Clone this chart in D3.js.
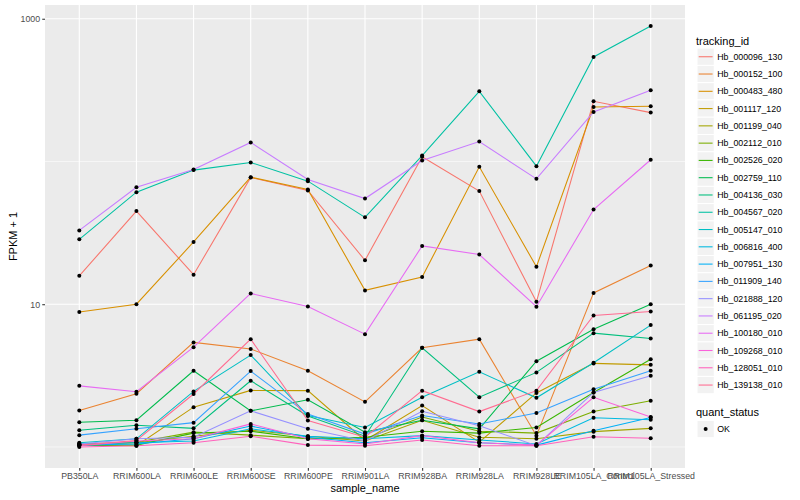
<!DOCTYPE html>
<html lang="en">
<head>
<meta charset="utf-8">
<title>FPKM + 1 by sample</title>
<script src="https://d3js.org/d3.v7.min.js"></script>
<style>
  body { margin: 0; background: #fff; }
  text { font-family: "Liberation Sans", Arial, sans-serif; }
</style>
</head>
<body>
<script>
// categories
const samples = ["PB350LA", "RRIM600LA", "RRIM600LE", "RRIM600SE", "RRIM600PE", "RRIM901LA",
                 "RRIM928BA", "RRIM928LA", "RRIM928LE", "RRIM105LA_Control", "RRIM105LA_Stressed"];
const trackingIds = ["Hb_000096_130", "Hb_000152_100", "Hb_000483_480", "Hb_001117_120", "Hb_001199_040",
                     "Hb_002112_010", "Hb_002526_020", "Hb_002759_110", "Hb_004136_030", "Hb_004567_020",
                     "Hb_005147_010", "Hb_006816_400", "Hb_007951_130", "Hb_011909_140", "Hb_021888_120",
                     "Hb_061195_020", "Hb_100180_010", "Hb_109268_010", "Hb_128051_010", "Hb_139138_010"];
const quantStatus = ["OK"];

// FPKM + 1, one array per gene, in sample order
const hb_000096_130 = [15.8, 44.9, 16.1, 77.3, 62.7, 20.3, 108, 62.0, 10.4, 264, 220];
const hb_000152_100 = [1.80, 2.36, 5.40, 4.86, 3.42, 2.07, 4.95, 5.69, 1.20, 12.0, 18.7];
const hb_000483_480 = [8.83, 10.0, 27.3, 77.6, 63.7, 12.5, 15.5, 91.8, 18.3, 241, 244];
const hb_001117_120 = [1.03, 1.02, 1.90, 2.49, 2.48, 1.11, 1.95, 1.08, 2.39, 3.85, 3.76];
const hb_001199_040 = [1.03, 1.07, 1.19, 1.31, 1.19, 1.10, 1.54, 1.17, 1.14, 1.28, 1.35];
const hb_002112_010 = [1.05, 1.08, 1.27, 1.21, 1.14, 1.14, 1.62, 1.29, 1.25, 1.77, 2.11];
const hb_002526_020 = [1.03, 1.03, 1.25, 1.29, 1.14, 1.17, 1.29, 1.25, 1.37, 2.41, 4.12];
const hb_002759_110 = [1.49, 1.54, 3.42, 1.79, 2.14, 1.27, 1.54, 1.34, 3.99, 6.68, 10.0];
const hb_004136_030 = [1.31, 1.42, 1.35, 2.91, 1.65, 1.19, 4.95, 2.23, 3.33, 6.27, 5.76];
const hb_004567_020 = [28.5, 61.0, 87.0, 98.4, 72.8, 40.6, 110, 310, 92.7, 540, 889];
const hb_005147_010 = [1.07, 1.14, 2.45, 4.40, 1.66, 1.37, 2.23, 3.36, 2.21, 3.89, 7.14];
const hb_006816_400 = [1.05, 1.07, 1.10, 1.34, 1.19, 1.14, 1.20, 1.12, 1.05, 1.60, 1.55];
const hb_007951_130 = [1.03, 1.05, 1.14, 1.40, 1.17, 1.07, 1.16, 1.07, 1.03, 1.30, 1.61];
const hb_011909_140 = [1.21, 1.34, 1.48, 3.40, 1.70, 1.23, 1.66, 1.45, 1.73, 2.54, 3.42];
const hb_021888_120 = [1.05, 1.14, 1.17, 1.79, 1.34, 1.10, 1.78, 1.41, 1.02, 2.41, 3.15];
const hb_061195_020 = [32.9, 66.0, 88.0, 136, 74.8, 55.0, 101.6, 138, 75.6, 222.6, 315];
const hb_100180_010 = [2.68, 2.44, 5.00, 11.9, 9.64, 6.17, 25.6, 22.3, 9.60, 46.1, 102.8];
const hb_109268_010 = [1.02, 1.10, 1.14, 1.45, 1.14, 1.05, 1.20, 1.07, 1.03, 2.23, 1.62];
const hb_128051_010 = [1.00, 1.02, 1.07, 1.19, 1.03, 1.02, 1.12, 1.02, 1.02, 1.18, 1.15];
const hb_139138_010 = [1.03, 1.11, 2.35, 5.69, 1.53, 1.17, 2.48, 1.77, 2.48, 8.35, 8.88];

// y tick labels
const yBreaks = [10, 1000];
const yMinorBreaks = [1, 100];

const allSeries = [hb_000096_130, hb_000152_100, hb_000483_480, hb_001117_120, hb_001199_040,
                   hb_002112_010, hb_002526_020, hb_002759_110, hb_004136_030, hb_004567_020,
                   hb_005147_010, hb_006816_400, hb_007951_130, hb_011909_140, hb_021888_120,
                   hb_061195_020, hb_100180_010, hb_109268_010, hb_128051_010, hb_139138_010];

// ggplot default hue palette for 20 levels
const hue20 = ["#F8766D", "#EA8331", "#D89000", "#C09B00", "#A3A500", "#7CAE00", "#39B600",
               "#00BB4E", "#00BF7D", "#00C1A3", "#00BFC4", "#00BAE0", "#00B0F6", "#35A2FF",
               "#9590FF", "#C77CFF", "#E76BF3", "#FA62DB", "#FF62BC", "#FF6C91"];

const W = 800, H = 500;
const panel = {left: 45, right: 685, top: 5, bottom: 468};

const series = trackingIds.map((id, i) => ({
    id: id,
    color: hue20[i],
    values: allSeries[i].map((v, j) => ({sample: samples[j], v: v}))
}));

const svg = d3.select("body").append("svg")
    .attr("width", W)
    .attr("height", H);

svg.append("rect").attr("width", W).attr("height", H).attr("fill", "#fff");

var x = d3.scalePoint()
    .domain(samples)
    .range([panel.left, panel.right])
    .padding(0.6);

// log scale with ggplot style 5% expansion
var ext = d3.extent(allSeries.flat()).map(Math.log10);
var pad = (ext[1] - ext[0]) * 0.05;
var y = d3.scaleLog()
    .domain([Math.pow(10, ext[0] - pad), Math.pow(10, ext[1] + pad)])
    .range([panel.bottom, panel.top]);

// panel background + grid
svg.append("rect")
    .attr("x", panel.left).attr("y", panel.top)
    .attr("width", panel.right - panel.left)
    .attr("height", panel.bottom - panel.top)
    .attr("fill", "#EBEBEB");

var grid = svg.append("g");
grid.selectAll(".minor")
    .data(yMinorBreaks)
    .enter().append("line")
    .attr("x1", panel.left).attr("x2", panel.right)
    .attr("y1", d => y(d)).attr("y2", d => y(d))
    .attr("stroke", "#fff").attr("stroke-width", 0.55);
grid.selectAll(".major")
    .data(yBreaks)
    .enter().append("line")
    .attr("x1", panel.left).attr("x2", panel.right)
    .attr("y1", d => y(d)).attr("y2", d => y(d))
    .attr("stroke", "#fff").attr("stroke-width", 1.1);
grid.selectAll(".xgrid")
    .data(samples)
    .enter().append("line")
    .attr("x1", d => x(d)).attr("x2", d => x(d))
    .attr("y1", panel.top).attr("y2", panel.bottom)
    .attr("stroke", "#fff").attr("stroke-width", 1.1);

// lines
var line = d3.line()
    .x(d => x(d.sample))
    .y(d => y(d.v));

svg.append("g").selectAll("path")
    .data(series)
    .enter().append("path")
    .attr("d", d => line(d.values))
    .attr("fill", "none")
    .attr("stroke", d => d.color)
    .attr("stroke-width", 1.07);

// points
svg.append("g").selectAll("g")
    .data(series)
    .enter().append("g")
    .selectAll("circle")
    .data(d => d.values)
    .enter().append("circle")
    .attr("cx", d => x(d.sample))
    .attr("cy", d => y(d.v))
    .attr("r", 2)
    .attr("fill", "#000");

// axes
var yAxis = svg.append("g")
    .attr("transform", "translate(" + panel.left + ",0)")
    .call(d3.axisLeft(y).tickValues(yBreaks).tickFormat(d3.format("d")).tickSize(2.75).tickPadding(2.2));
var xAxis = svg.append("g")
    .attr("transform", "translate(0," + panel.bottom + ")")
    .call(d3.axisBottom(x).tickSize(2.75).tickPadding(2.2));

[xAxis, yAxis].forEach(function(a){
    a.select(".domain").remove();
    a.selectAll(".tick line").attr("stroke", "#333333").attr("stroke-width", 1.07);
    a.selectAll(".tick text")
        .attr("fill", "#4D4D4D")
        .style("font-size", "8.8px")
        .style("font-family", "Liberation Sans, Arial, sans-serif");
});

// axis titles
svg.append("text")
    .attr("x", (panel.left + panel.right) / 2)
    .attr("y", 492)
    .attr("text-anchor", "middle")
    .style("font-size", "11px")
    .text("sample_name");

svg.append("text")
    .attr("transform", "translate(17," + (panel.top + panel.bottom) / 2 + ") rotate(-90)")
    .attr("text-anchor", "middle")
    .style("font-size", "11px")
    .text("FPKM + 1");

// legend: tracking_id
const keySize = 17.28;
var legend = svg.append("g");
legend.append("text")
    .attr("x", 696).attr("y", 44.5)
    .style("font-size", "11px")
    .text("tracking_id");

var keys = legend.selectAll(".key")
    .data(series)
    .enter().append("g")
    .attr("transform", (d, i) => "translate(697," + (48.1 + i * keySize) + ")");
keys.append("rect")
    .attr("width", keySize).attr("height", keySize)
    .attr("fill", "#F2F2F2").attr("stroke", "#fff").attr("stroke-width", 1);
keys.append("line")
    .attr("x1", 1.7).attr("x2", keySize - 1.7)
    .attr("y1", keySize / 2).attr("y2", keySize / 2)
    .attr("stroke", d => d.color).attr("stroke-width", 1.07);
keys.append("text")
    .attr("x", keySize + 3)
    .attr("y", keySize / 2)
    .attr("dy", "0.35em")
    .style("font-size", "8.8px")
    .text(d => d.id);

// legend: quant_status
legend.append("text")
    .attr("x", 696).attr("y", 415.5)
    .style("font-size", "11px")
    .text("quant_status");

var qkeys = legend.selectAll(".qkey")
    .data(quantStatus)
    .enter().append("g")
    .attr("transform", (d, i) => "translate(697," + (420.4 + i * keySize) + ")");
qkeys.append("rect")
    .attr("width", keySize).attr("height", keySize)
    .attr("fill", "#F2F2F2").attr("stroke", "#fff").attr("stroke-width", 1);
qkeys.append("circle")
    .attr("cx", keySize / 2).attr("cy", keySize / 2)
    .attr("r", 2).attr("fill", "#000");
qkeys.append("text")
    .attr("x", keySize + 3)
    .attr("y", keySize / 2)
    .attr("dy", "0.35em")
    .style("font-size", "8.8px")
    .text(d => d);
</script>
</body>
</html>
